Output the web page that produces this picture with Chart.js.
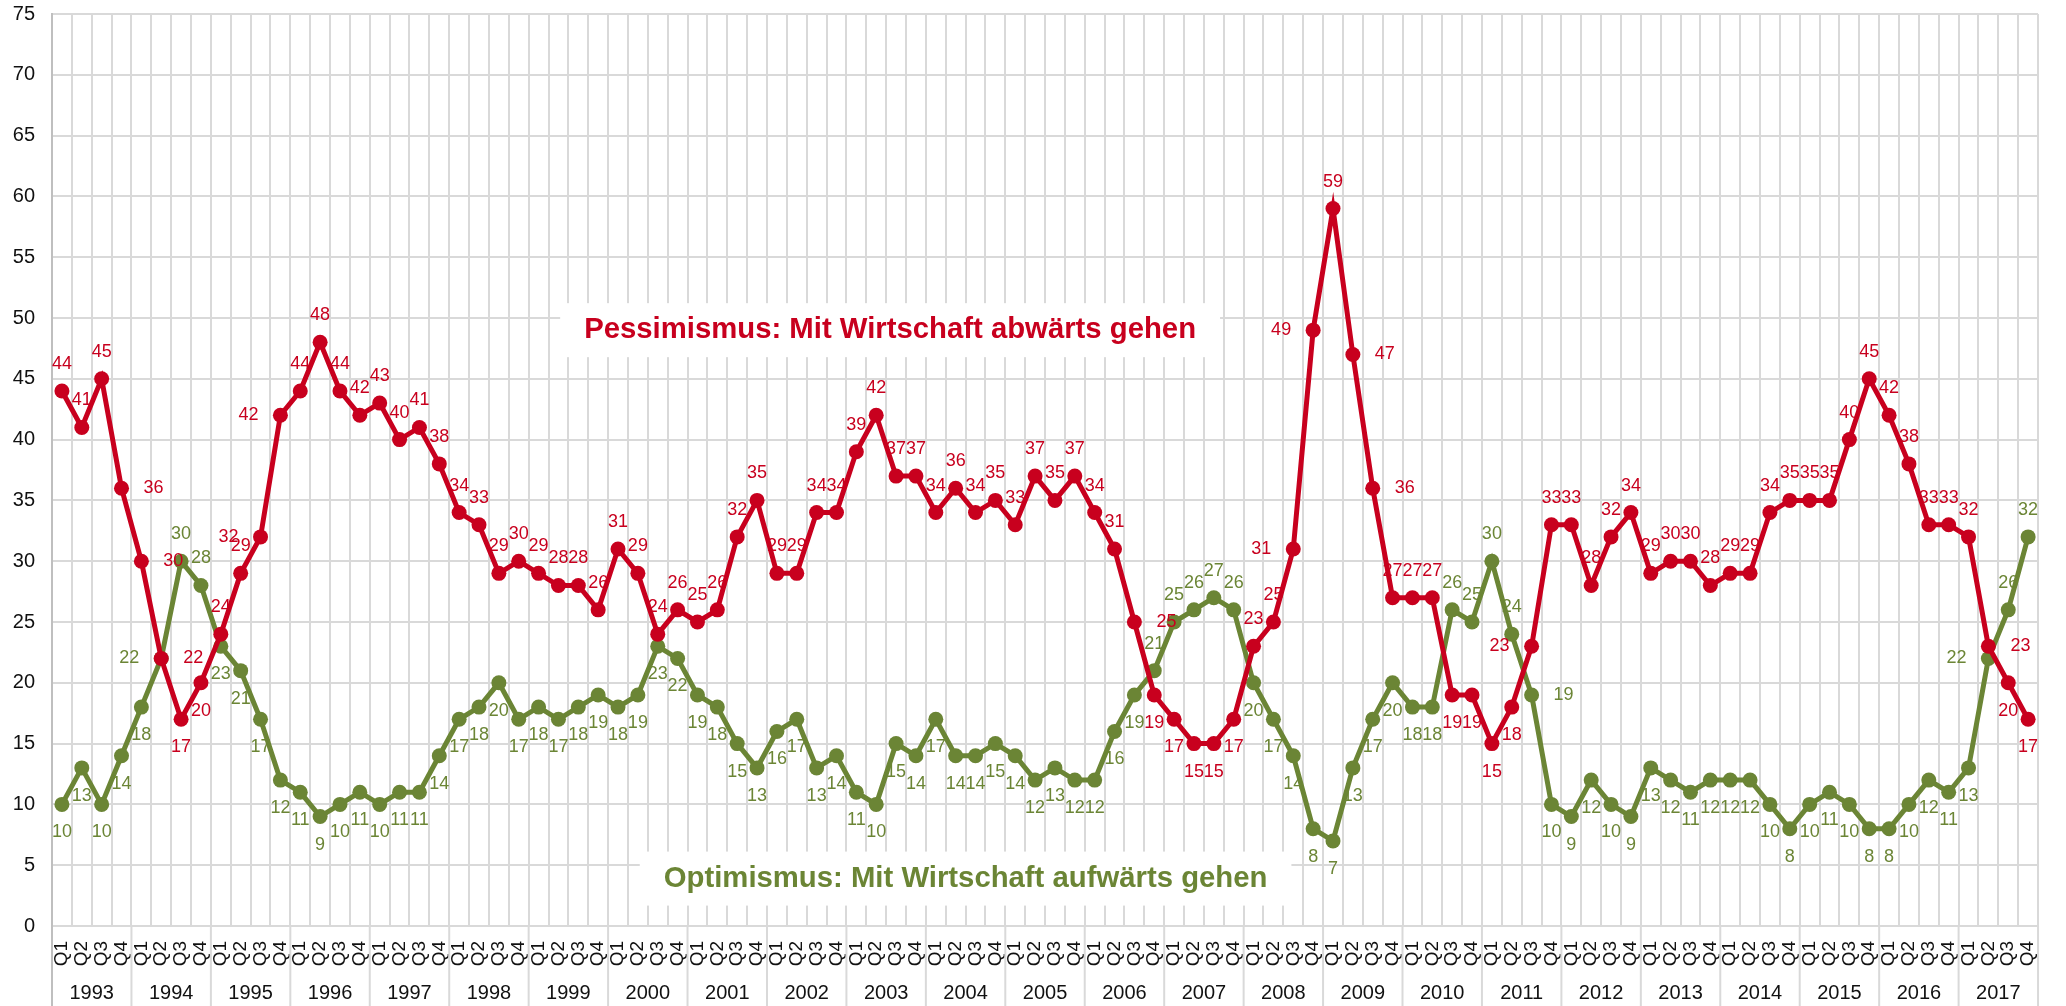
<!DOCTYPE html>
<html>
<head>
<meta charset="utf-8">
<script src="https://cdn.jsdelivr.net/npm/chart.js@4.4.1/dist/chart.umd.min.js"></script>
<style>
  html, body { margin: 0; padding: 0; background: #fff; }
</style>
</head>
<body>
<canvas id="line-graph" width="2066" height="1006"></canvas>
<script>
const years = ['1993', '1994', '1995', '1996', '1997', '1998', '1999', '2000', '2001', '2002', '2003', '2004', '2005',
    '2006', '2007', '2008', '2009', '2010', '2011', '2012', '2013', '2014', '2015', '2016', '2017'];
const quarters = ['Q1', 'Q2', 'Q3', 'Q4'];

// quarterly values, 1993 Q1 .. 2017 Q4
const pessimismus = [
    44, 41, 45, 36, 30, 22, 17, 20, 24, 29, 32, 42, 44, 48, 44, 42, 43, 40, 41, 38,
    34, 33, 29, 30, 29, 28, 28, 26, 31, 29, 24, 26, 25, 26, 32, 35, 29, 29, 34, 34,
    39, 42, 37, 37, 34, 36, 34, 35, 33, 37, 35, 37, 34, 31, 25, 19, 17, 15, 15, 17,
    23, 25, 31, 49, 59, 47, 36, 27, 27, 27, 19, 19, 15, 18, 23, 33, 33, 28, 32, 34,
    29, 30, 30, 28, 29, 29, 34, 35, 35, 35, 40, 45, 42, 38, 33, 33, 32, 23, 20, 17
];
const optimismus = [
    10, 13, 10, 14, 18, 22, 30, 28, 23, 21, 17, 12, 11, 9, 10, 11, 10, 11, 11, 14,
    17, 18, 20, 17, 18, 17, 18, 19, 18, 19, 23, 22, 19, 18, 15, 13, 16, 17, 13, 14,
    11, 10, 15, 14, 17, 14, 14, 15, 14, 12, 13, 12, 12, 16, 19, 21, 25, 26, 27, 26,
    20, 17, 14, 8, 7, 13, 17, 20, 18, 18, 26, 25, 30, 24, 19, 10, 9, 12, 10, 9,
    13, 12, 11, 12, 12, 12, 10, 8, 10, 11, 10, 8, 8, 10, 12, 11, 13, 22, 26, 32
];

const pessimismusLabel = 'Pessimismus: Mit Wirtschaft abwärts gehen';
const optimismusLabel = 'Optimismus: Mit Wirtschaft aufwärts gehen';

const RED = '#c8001e';
const GREEN = '#6b8535';
const GRID = '#d9d9d9';
const AXIS = '#bfbfbf';
const FONT = "'Liberation Sans', Arial, sans-serif";

const quarterLabels = years.flatMap(() => quarters);

// value labels: on the side away from the other series,
// beside the point where the line is steep (left when rising, right when falling)
const pointLabels = {
    id: 'pointLabels',
    afterDatasetsDraw(chart) {
        const ctx = chart.ctx;
        ctx.save();
        ctx.font = '18px ' + FONT;
        ctx.textAlign = 'center';
        ctx.textBaseline = 'middle';
        chart.data.datasets.forEach((ds, di) => {
            const other = chart.data.datasets[1 - di].data;
            const meta = chart.getDatasetMeta(di);
            ctx.fillStyle = ds.borderColor;
            ds.data.forEach((v, i) => {
                const pt = meta.data[i];
                const prev = i > 0 ? ds.data[i - 1] : v;
                const next = i < ds.data.length - 1 ? ds.data[i + 1] : v;
                const onTop = di === 0 ? v >= other[i] : v > other[i];
                let dx = 0;
                let dy = onTop ? -27 : 28;
                if (Math.abs(next - prev) >= 12) {
                    dx = next > prev ? -32 : 32;
                    dy = 0;
                }
                ctx.fillText(String(v), pt.x + dx, pt.y + dy);
            });
        });
        ctx.restore();
    }
};

// series names in white boxes inside the plot
const seriesBoxes = {
    id: 'seriesBoxes',
    beforeDatasetsDraw(chart) {
        const { ctx, scales: { x, y } } = chart;
        const boxes = [
            { text: pessimismusLabel, color: RED, at: 41.7, val: 49 },
            { text: optimismusLabel, color: GREEN, at: 45.5, val: 3.9 }
        ];
        ctx.save();
        ctx.font = 'bold 29.3px ' + FONT;
        ctx.textAlign = 'center';
        ctx.textBaseline = 'middle';
        boxes.forEach(b => {
            const cx = x.getPixelForValue(b.at);
            const cy = y.getPixelForValue(b.val);
            const w = ctx.measureText(b.text).width + 48;
            ctx.fillStyle = '#fff';
            ctx.fillRect(cx - w / 2, cy - 27, w, 54);
            ctx.fillStyle = b.color;
            ctx.fillText(b.text, cx, cy);
        });
        ctx.restore();
    }
};

// year separators running down through the axis labels
const yearLines = {
    id: 'yearLines',
    afterDraw(chart) {
        const { ctx, chartArea, scales: { x } } = chart;
        const step = x.width / years.length;
        ctx.save();
        ctx.lineWidth = 2;
        for (let k = 0; k <= years.length; k++) {
            const px = x.left + k * step;
            ctx.strokeStyle = k === 0 ? AXIS : GRID;
            ctx.beginPath();
            ctx.moveTo(px, chartArea.bottom);
            ctx.lineTo(px, chart.height);
            ctx.stroke();
        }
        ctx.restore();
    }
};

const ctx = document.getElementById('line-graph').getContext('2d');
const moodChart = new Chart(ctx, {
    type: 'line',
    data: {
        labels: quarterLabels,
        datasets: [{
            label: pessimismusLabel,
            data: pessimismus,
            borderColor: RED,
            backgroundColor: RED,
            pointBackgroundColor: RED,
            borderWidth: 5,
            pointRadius: 7.5,
            pointBorderWidth: 0,
            fill: false
        }, {
            label: optimismusLabel,
            data: optimismus,
            borderColor: GREEN,
            backgroundColor: GREEN,
            pointBackgroundColor: GREEN,
            borderWidth: 5,
            pointRadius: 7.5,
            pointBorderWidth: 0,
            fill: false
        }]
    },
    options: {
        responsive: false,
        animation: false,
        devicePixelRatio: 1,
        layout: { padding: { top: 14, right: 18, left: 0, bottom: 0 } },
        plugins: {
            legend: { display: false },
            tooltip: { enabled: false }
        },
        scales: {
            x: {
                type: 'category',
                offset: true,
                weight: 0,
                grid: { offset: true, color: GRID, lineWidth: 2, drawTicks: false },
                border: { color: GRID, width: 2 },
                ticks: {
                    autoSkip: false,
                    minRotation: 90,
                    maxRotation: 90,
                    padding: 15,
                    color: '#111',
                    font: { family: FONT, size: 19 }
                },
                afterFit: s => { s.height = 46; }
            },
            x2: {
                type: 'category',
                labels: years,
                position: 'bottom',
                offset: true,
                weight: 1,
                grid: { display: false, drawTicks: false },
                border: { display: false },
                ticks: {
                    autoSkip: false,
                    maxRotation: 0,
                    padding: 9,
                    color: '#111',
                    font: { family: FONT, size: 20 }
                },
                afterFit: s => { s.height = 34; }
            },
            y: {
                min: 0,
                max: 75,
                ticks: {
                    stepSize: 5,
                    padding: 17,
                    color: '#111',
                    font: { family: FONT, size: 20 }
                },
                grid: { color: GRID, lineWidth: 2, drawTicks: false },
                border: { color: AXIS, width: 2 },
                afterFit: s => {
                    s.width = 52;
                    s.paddingTop = 0;
                    s.paddingBottom = 0;
                }
            }
        }
    },
    plugins: [seriesBoxes, pointLabels, yearLines]
});
</script>
</body>
</html>
